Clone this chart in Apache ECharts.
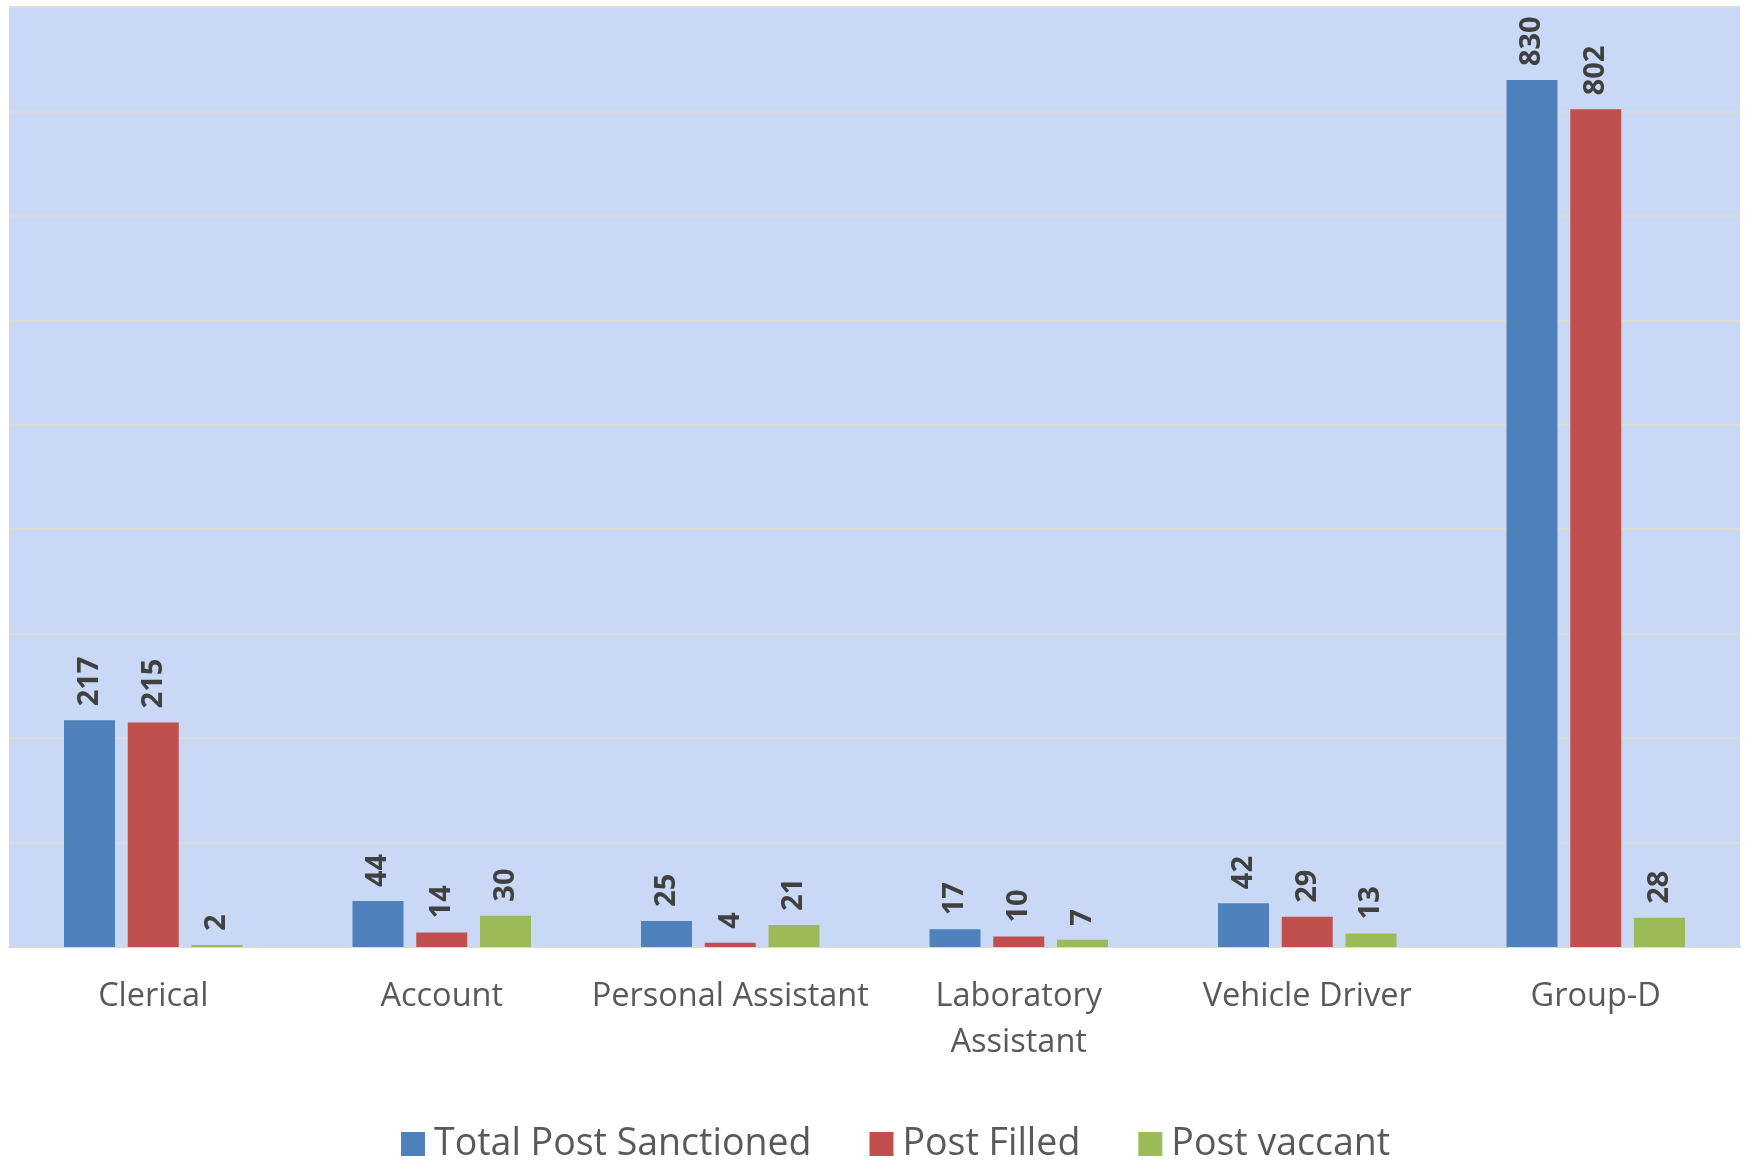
<!DOCTYPE html>
<html>
<head>
<meta charset="utf-8">
<title>Post Sanctioned, Filled and Vacant</title>
<script src="https://cdn.jsdelivr.net/npm/echarts@6/dist/echarts.min.js"></script>
<style>
  html, body { margin: 0; padding: 0; background: #ffffff; }
  #chart { width: 1748px; height: 1160px; }
</style>
</head>
<body>
<div id="chart"></div>
<script>
// Staff strength by post category
const categories = ['Clerical', 'Account', 'Personal Assistant', 'Laboratory\nAssistant', 'Vehicle Driver', 'Group-D'];
const seriesNames = ['Total Post Sanctioned', 'Post Filled', 'Post vaccant'];
const totalSanctioned = [217, 44, 25, 17, 42, 830];
const postFilled = [215, 14, 4, 10, 29, 802];
const postVacant = [2, 30, 21, 7, 13, 28];

const FONT = '"Open Sans", "Noto Sans", sans-serif';
const colors = ['#4f81bd', '#c0504d', '#9bbb59'];

const valueLabel = {
  show: true,
  position: 'top',
  rotate: 90,
  align: 'left',
  verticalAlign: 'middle',
  distance: 14,
  color: '#404040',
  fontFamily: FONT,
  fontWeight: 'bold',
  fontSize: 29
};

function barSeries(name, values, color) {
  return {
    name: name,
    type: 'bar',
    data: values,
    barWidth: 51,
    barGap: '25%',
    itemStyle: { color: color },
    label: valueLabel
  };
}

const chart = echarts.init(document.getElementById('chart'), null, { renderer: 'canvas' });
chart.setOption({
  animation: false,
  backgroundColor: '#ffffff',
  grid: {
    left: 9, right: 8, top: 7, bottom: 213,
    show: true,
    backgroundColor: '#c9d8f5',
    borderWidth: 0
  },
  legend: {
    data: seriesNames,
    left: 396,
    top: 1120,
    itemWidth: 24,
    itemHeight: 24,
    itemGap: 58,
    icon: 'rect',
    textStyle: { color: '#595959', fontFamily: FONT, fontSize: 37.5, padding: [0, 0, 0, 4] }
  },
  xAxis: {
    type: 'category',
    data: categories,
    axisLine: { show: true, lineStyle: { color: '#d9d9d9', width: 2 } },
    axisTick: { show: false },
    axisLabel: {
      margin: 27,
      color: '#595959',
      fontFamily: FONT,
      fontSize: 32.5,
      lineHeight: 46,
      interval: 0
    }
  },
  yAxis: {
    type: 'value',
    min: 0,
    max: 900,
    interval: 100,
    axisLine: { show: false },
    axisTick: { show: false },
    axisLabel: { show: false },
    splitLine: { show: true, lineStyle: { color: '#dcdcd6', width: 2 } }
  },
  series: [
    barSeries(seriesNames[0], totalSanctioned, colors[0]),
    barSeries(seriesNames[1], postFilled, colors[1]),
    barSeries(seriesNames[2], postVacant, colors[2])
  ]
});
</script>
</body>
</html>
